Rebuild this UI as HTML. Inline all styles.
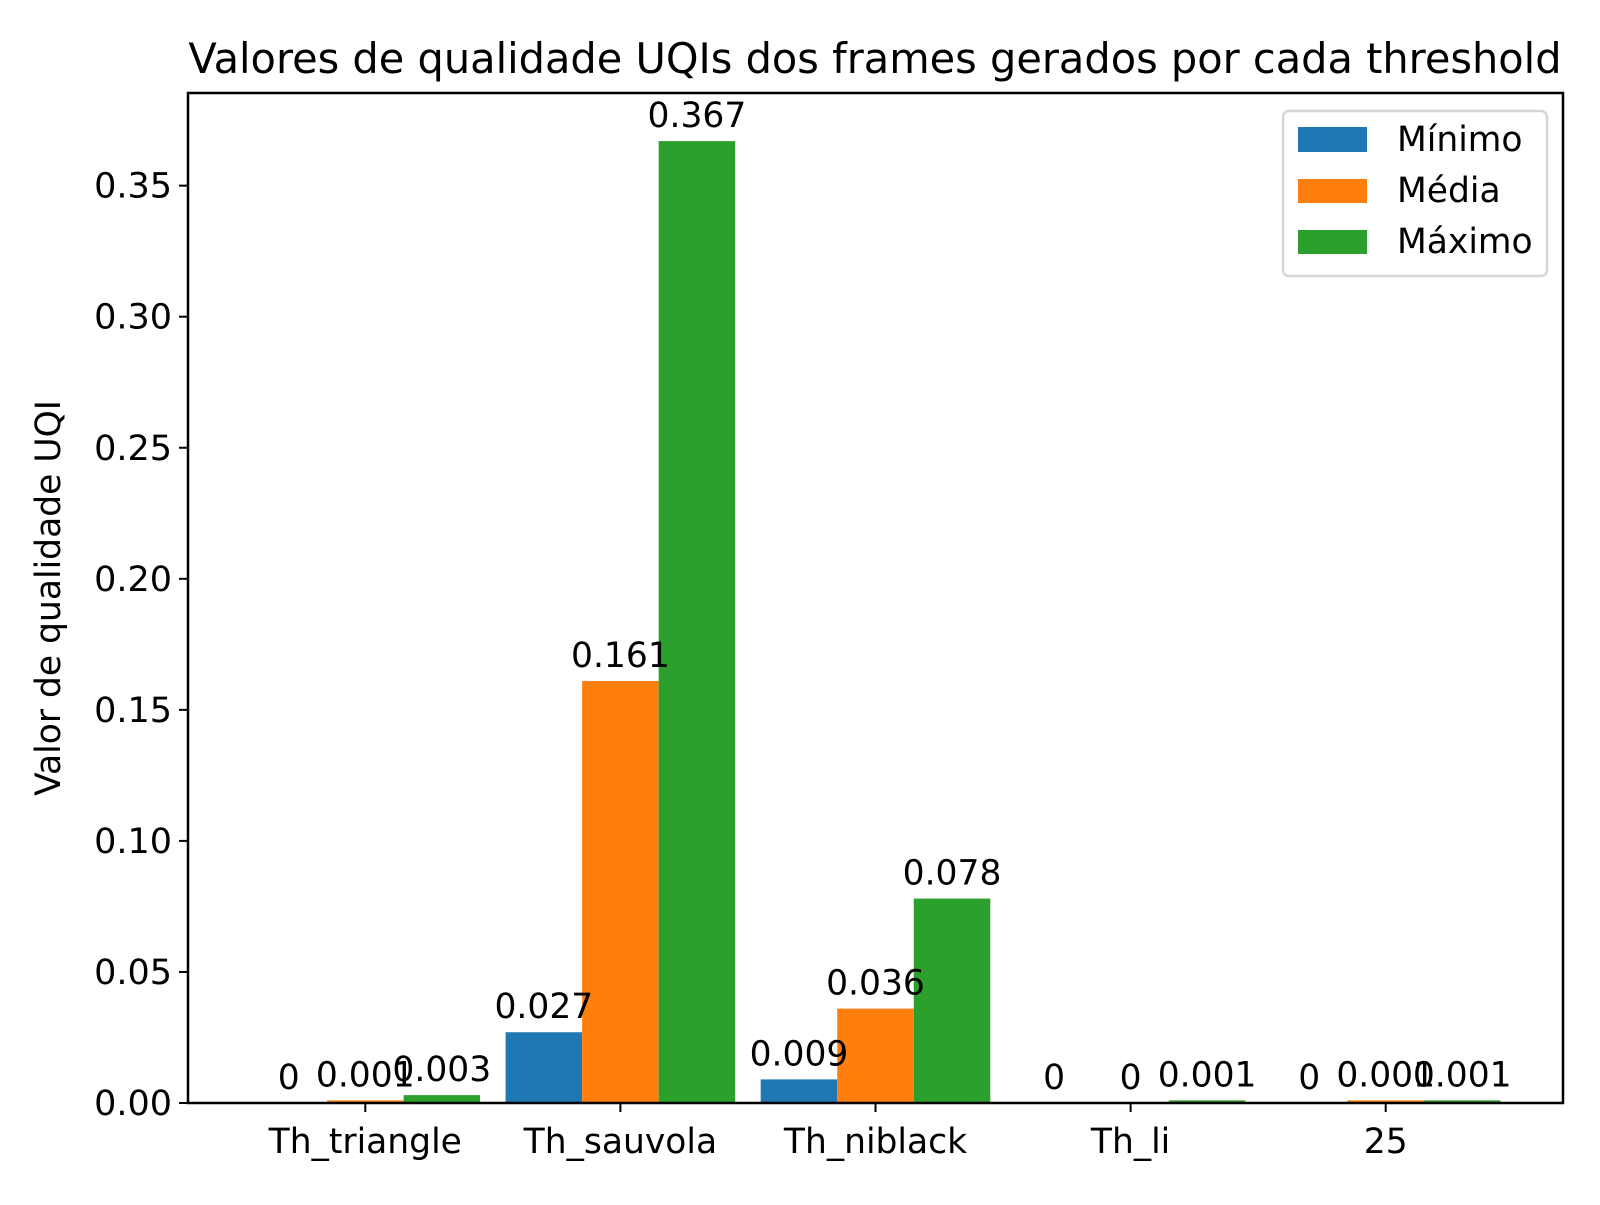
<!DOCTYPE html>
<html><head><meta charset="utf-8"><style>body{margin:0;background:#fff}svg text{font-family:"DejaVu Sans","Liberation Sans",sans-serif;fill:#000}</style></head>
<body>
<svg id="chart" width="1600" height="1200" xmlns="http://www.w3.org/2000/svg">
<rect width="1600" height="1200" fill="#fff"/>
<text x="875" y="73" font-size="41.5" text-anchor="middle">Valores de qualidade UQIs dos frames gerados por cada threshold</text>
<text transform="translate(60,598) rotate(-90)" font-size="34.5" text-anchor="middle">Valor de qualidade UQI</text>
<g id="plot"></g>
<g id="labels"></g>
<rect x="188" y="93" width="1375" height="1010" fill="none" stroke="#000" stroke-width="2.5"/>
<g>
<rect x="1283" y="111" width="264" height="165" rx="6" fill="#fff" stroke="#d6d6d6" stroke-width="2.5"/>
<g><rect x="1298" y="127" width="69" height="25" fill="#1f77b4"/><text x="1397" y="151" font-size="34.5">Mínimo</text></g>
<g><rect x="1298" y="179" width="69" height="24" fill="#ff7f0e"/><text x="1397" y="202" font-size="34.5">Média</text></g>
<g><rect x="1298" y="230" width="69" height="24" fill="#2ca02c"/><text x="1397" y="253" font-size="34.5">Máximo</text></g>
</g>
</svg>
<script>
const categories=["Th_triangle","Th_sauvola","Th_niblack","Th_li","25"];
const minimo=[0,0.027,0.009,0,0];
const media=[0.001,0.161,0.036,0,0.001];
const maximo=[0.003,0.367,0.078,0.001,0.001];
const yTicks=[0,0.05,0.10,0.15,0.20,0.25,0.30,0.35];
const seriesColors=["#1f77b4","#ff7f0e","#2ca02c"];
const seriesNames=["minimo","media","maximo"];
const series=[minimo,media,maximo];
const NS="http://www.w3.org/2000/svg";
const L=188,R=1563,T=93,B=1103;
const xmin=-0.695,xmax=4.695,ymin=0;
const ymax=Math.max(...maximo,...media,...minimo)*1.05;
const xs=v=>L+(v-xmin)/(xmax-xmin)*(R-L);
const ys=v=>B-(v-ymin)/(ymax-ymin)*(B-T);
const g=document.getElementById('plot');
const gl=document.getElementById('labels');
function mk(t,a,p){const e=document.createElementNS(NS,t);for(const k in a)e.setAttribute(k,a[k]);(p||g).appendChild(e);return e;}
const w=0.3;
series.forEach((s,si)=>{s.forEach((v,i)=>{
 const c=i+(si-1)*w;
 const r=mk('rect',{x:xs(c-w/2),y:ys(v),width:xs(c+w/2)-xs(c-w/2),height:B-ys(v),fill:seriesColors[si]});
 
 
 const t=mk('text',{x:xs(c),y:ys(v)-14,'font-size':34.5,'text-anchor':'middle'},gl);
 t.textContent=String(+v.toFixed(3));
 
 
});});
yTicks.forEach(v=>{
 const l=mk('line',{x1:L-9,x2:L,y1:ys(v),y2:ys(v),stroke:'#000','stroke-width':2});
 
 
 const t=mk('text',{x:L-16,y:ys(v)+12,'font-size':35,'text-anchor':'end'});
 t.textContent=v.toFixed(2);
 
 
});
categories.forEach((c,i)=>{
 const l=mk('line',{x1:xs(i),x2:xs(i),y1:B,y2:B+9,stroke:'#000','stroke-width':2});
 
 
 const t=mk('text',{x:xs(i),y:1153,'font-size':34.5,'text-anchor':'middle'});
 t.textContent=c;
 
 
});
</script>
</body></html>
